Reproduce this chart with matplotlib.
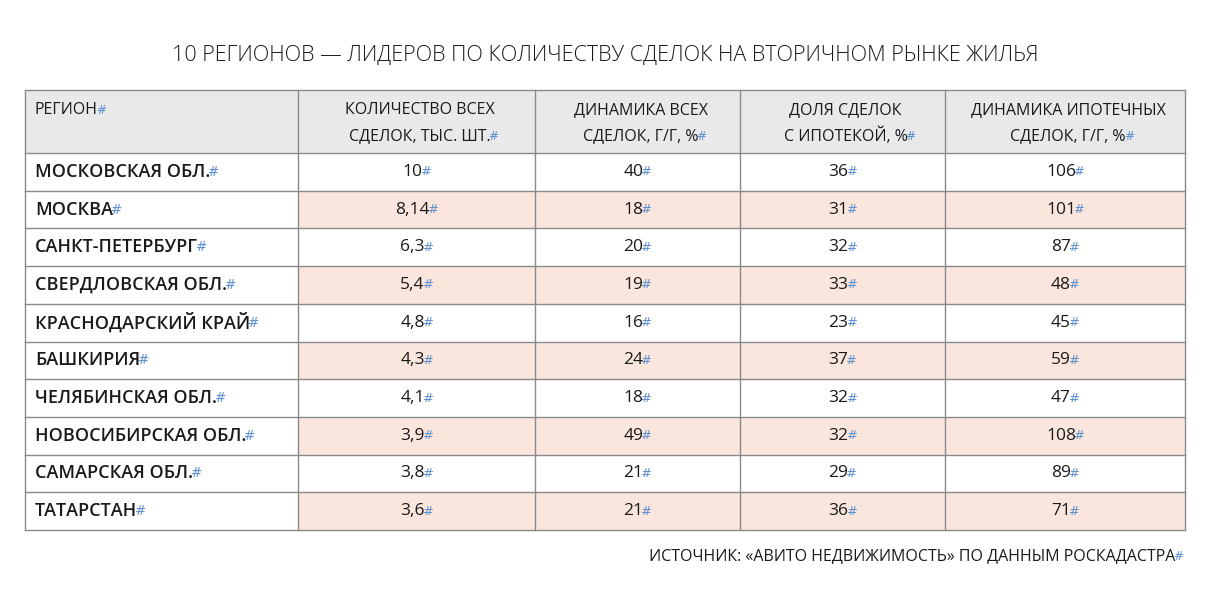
import matplotlib
matplotlib.use("Agg")
import matplotlib.pyplot as plt
from matplotlib.patches import Rectangle

title = "10 РЕГИОНОВ — ЛИДЕРОВ ПО КОЛИЧЕСТВУ СДЕЛОК НА ВТОРИЧНОМ РЫНКЕ ЖИЛЬЯ"
headers = ["РЕГИОН", "КОЛИЧЕСТВО ВСЕХ\nСДЕЛОК, ТЫС. ШТ.", "ДИНАМИКА ВСЕХ\nСДЕЛОК, Г/Г, %",
           "ДОЛЯ СДЕЛОК\nС ИПОТЕКОЙ, %", "ДИНАМИКА ИПОТЕЧНЫХ\nСДЕЛОК, Г/Г, %"]
regions = ["МОСКОВСКАЯ ОБЛ.", "МОСКВА", "САНКТ-ПЕТЕРБУРГ", "СВЕРДЛОВСКАЯ ОБЛ.", "КРАСНОДАРСКИЙ КРАЙ",
           "БАШКИРИЯ", "ЧЕЛЯБИНСКАЯ ОБЛ.", "НОВОСИБИРСКАЯ ОБЛ.", "САМАРСКАЯ ОБЛ.", "ТАТАРСТАН"]
deals = ["10", "8,14", "6,3", "5,4", "4,8", "4,3", "4,1", "3,9", "3,8", "3,6"]
deals_dyn = [40, 18, 20, 19, 16, 24, 18, 49, 21, 21]
mortgage_share = [36, 31, 32, 33, 23, 37, 32, 32, 29, 36]
mortgage_dyn = [106, 101, 87, 48, 45, 59, 47, 108, 89, 71]
source = "ИСТОЧНИК: «АВИТО НЕДВИЖИМОСТЬ» ПО ДАННЫМ РОСКАДАСТРА"

W, H = 1208, 593
fig = plt.figure(figsize=(W/100, H/100), dpi=100)
ax = fig.add_axes([0, 0, 1, 1])
ax.set_xlim(0, W); ax.set_ylim(H, 0); ax.axis("off")

cols = [25, 298, 535, 740, 945, 1185]
htop, hbot = 90, 153
rh = (530 - hbot) / 10
grid = "#8a8a8a"
hashc = "#5b8fd0"
font = "Open Sans"

def txt(x, y, s, ha, size, weight="normal", color="#1a1a1a"):
    return ax.text(x, y, s, ha=ha, va="center", fontsize=size, family=font, weight=weight, color=color)

ax.add_patch(Rectangle((cols[0], htop), cols[-1]-cols[0], hbot-htop, fc="#e9e9e9", ec="none"))
for i in range(10):
    y0 = hbot + i*rh
    if i % 2 == 1:
        ax.add_patch(Rectangle((cols[1], y0), cols[-1]-cols[1], rh, fc="#fbe6de", ec="none"))

for x in cols:
    ax.plot([x, x], [htop, 530], color=grid, lw=1)
for j in range(11):
    y = hbot + j*rh
    ax.plot([cols[0], cols[-1]], [y, y], color=grid, lw=1)
ax.plot([cols[0], cols[-1]], [htop, htop], color=grid, lw=1)

fig.canvas.draw()
r = fig.canvas.get_renderer()

def with_hash(x, y, s, ha, size, weight="normal"):
    t = txt(x, y, s, ha, size, weight)
    bb = t.get_window_extent(renderer=r)
    ax.text(bb.x1 - 2, y, "#", ha="left", va="center", fontsize=size*0.75, family="DejaVu Sans", color=hashc)

txt(605, 55, title, "center", 15.5, "light")
with_hash(cols[0]+10, 110, headers[0], "left", 11.5)
for k in range(1, 5):
    l1, l2 = headers[k].split("\n")
    xc = (cols[k] + cols[k+1]) / 2
    txt(xc + 3, 110, l1, "center", 11.5)
    with_hash(xc + 3, 136, l2, "center", 11.5)

for i in range(10):
    yc = hbot + (i+0.5)*rh
    with_hash(cols[0]+10, yc, regions[i], "left", 13, "semibold")
    vals = [deals[i], str(deals_dyn[i]), str(mortgage_share[i]), str(mortgage_dyn[i])]
    for k, v in enumerate(vals):
        xc = (cols[k+1] + cols[k+2]) / 2
        with_hash(xc - 4, yc, v, "center", 12.5)

with_hash(1175, 556, source, "right", 11.5)
fig.savefig("out.png", dpi=100)
